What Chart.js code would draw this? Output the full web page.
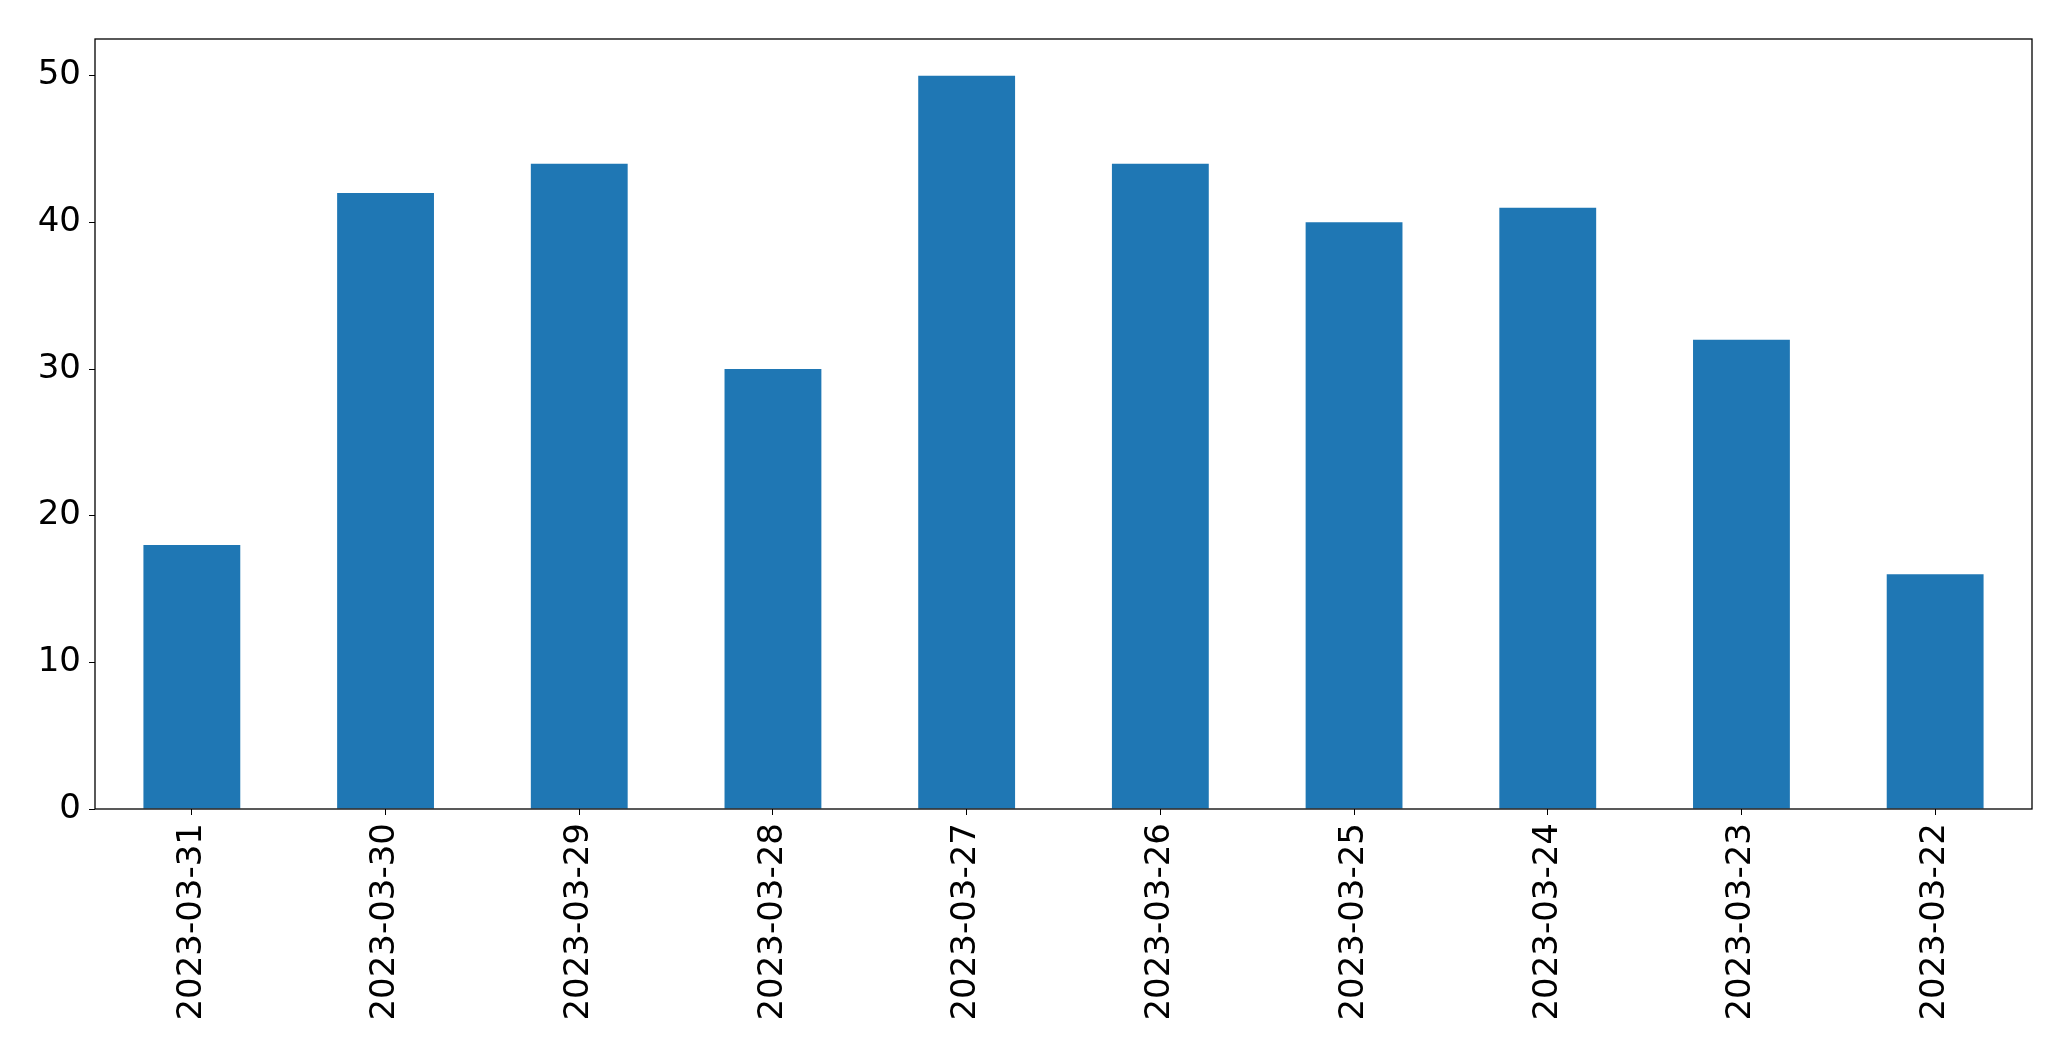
<!DOCTYPE html>
<html>
<head>
<meta charset="utf-8">
<script src="https://cdn.jsdelivr.net/npm/chart.js@4"></script>
<style>
  html, body { margin: 0; padding: 0; background: #fff; }
  canvas { display: block; }
</style>
</head>
<body>
<canvas id="chart" width="2071" height="1061"></canvas>
<script>
const dates = ["2023-03-31", "2023-03-30", "2023-03-29", "2023-03-28", "2023-03-27",
  "2023-03-26", "2023-03-25", "2023-03-24", "2023-03-23", "2023-03-22"];
const counts = [18, 42, 44, 30, 50, 44, 40, 41, 32, 16];
const yTicks = [0, 10, 20, 30, 40, 50];

// box around the plot area, like matplotlib spines
const frame = {
  id: "frame",
  afterDraw(chart) {
    const { ctx, chartArea } = chart;
    ctx.save();
    ctx.strokeStyle = "#000";
    ctx.lineWidth = 1.3;
    ctx.strokeRect(chartArea.left, chartArea.top,
      chartArea.right - chartArea.left, chartArea.bottom - chartArea.top);
    ctx.restore();
  },
};

const font = { family: "'DejaVu Sans'", size: 34 };

new Chart(document.getElementById("chart"), {
  type: "bar",
  data: {
    labels: dates,
    datasets: [{
      data: counts,
      backgroundColor: "#1f77b4",
      borderWidth: 0,
      barPercentage: 0.5,
      categoryPercentage: 1,
    }],
  },
  options: {
    responsive: false,
    animation: false,
    layout: { padding: { top: 39, right: 39, left: 0, bottom: 0 } },
    plugins: {
      legend: { display: false },
      tooltip: { enabled: false },
    },
    scales: {
      x: {
        offset: true,
        grid: { offset: false, drawOnChartArea: false, tickLength: 6, color: "#000" },
        border: { display: false },
        ticks: {
          color: "#000",
          font: font,
          maxRotation: 90,
          minRotation: 90,
          padding: 8,
          autoSkip: false,
        },
        afterFit(scale) { scale.height = 252; },
      },
      y: {
        min: 0,
        max: 52.5,
        grid: { drawOnChartArea: false, tickLength: 6, color: "#000" },
        border: { display: false },
        afterBuildTicks(scale) { scale.ticks = yTicks.map((v) => ({ value: v })); },
        ticks: { color: "#000", font: font, padding: 8 },
        afterFit(scale) { scale.width = 95; },
      },
    },
  },
  plugins: [frame],
});
</script>
</body>
</html>
